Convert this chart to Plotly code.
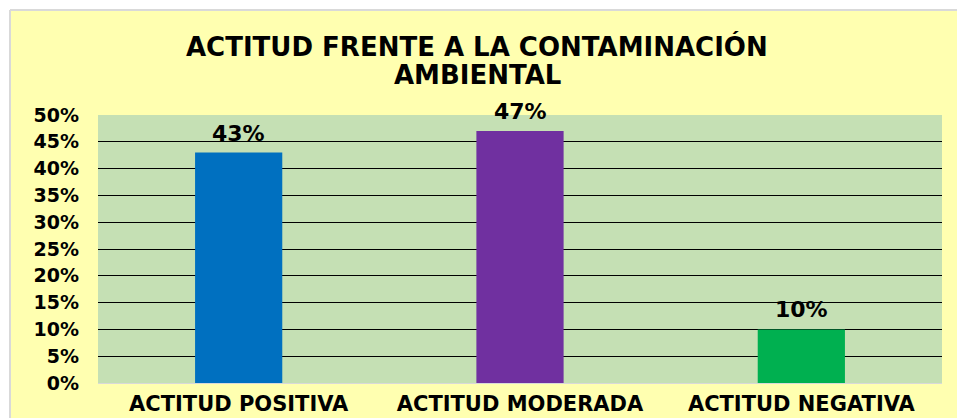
import plotly.graph_objects as go

categories = ["ACTITUD POSITIVA", "ACTITUD MODERADA", "ACTITUD NEGATIVA"]
values = [0.43, 0.47, 0.10]
labels = ["43%", "47%", "10%"]
colors = ["#0070C0", "#7030A0", "#00B050"]
title_lines = ["ACTITUD FRENTE A LA CONTAMINACIÓN", "AMBIENTAL"]

W, H = 957, 418
L, R, T, B = 98, 15, 115, 35
pw, ph = W - L - R, H - T - B

def px_x(px):
    return (px - L) / pw

def px_y(py):
    return (H - B - py) / ph

FONT = "DejaVu Sans"

fig = go.Figure()
fig.add_trace(go.Bar(
    x=categories, y=values, marker=dict(color=colors, line=dict(width=0)),
    width=0.31, hoverinfo="skip",
))

for c, v, t in zip(categories, values, labels):
    fig.add_annotation(x=c, y=v, text=f"<b>{t}</b>", showarrow=False,
                       yanchor="bottom", yshift=5,
                       font=dict(family=FONT, size=22, color="black"))

# title as two lines for tighter line spacing
for line, cy in zip(title_lines, [47, 75]):
    fig.add_annotation(xref="paper", yref="paper", x=px_x(477), y=px_y(cy),
                       xanchor="center", yanchor="middle", showarrow=False,
                       text=f"<b>{line}</b>",
                       font=dict(family=FONT, size=26, color="black"))

shapes = [
    dict(type="rect", xref="paper", yref="paper", x0=px_x(-5), x1=px_x(W + 5),
         y0=px_y(10), y1=px_y(-5), fillcolor="white", line=dict(width=0), layer="below"),
    dict(type="rect", xref="paper", yref="paper", x0=px_x(-5), x1=px_x(10),
         y0=px_y(H + 5), y1=px_y(-5), fillcolor="white", line=dict(width=0), layer="below"),
    dict(type="line", xref="paper", yref="paper", x0=px_x(10), x1=px_x(W + 5),
         y0=px_y(10), y1=px_y(10), line=dict(color="#D9D9D9", width=2)),
    dict(type="line", xref="paper", yref="paper", x0=px_x(10), x1=px_x(10),
         y0=px_y(10), y1=px_y(H + 5), line=dict(color="#D9D9D9", width=2)),
]

fig.update_layout(
    width=W, height=H,
    margin=dict(l=L, r=R, t=T, b=B, pad=0, autoexpand=False),
    paper_bgcolor="#FFFFB0",
    plot_bgcolor="#C5E0B4",
    showlegend=False,
    shapes=shapes,
    xaxis=dict(showgrid=False, showline=False, ticks="", zeroline=False,
               automargin=False,
               tickfont=dict(family=FONT, size=21, color="black", weight="bold"),
               ticklabelstandoff=6),
    yaxis=dict(range=[0, 0.5], dtick=0.05, tickformat=".0%",
               automargin=False,
               showgrid=True, gridcolor="black", gridwidth=1,
               zeroline=True, zerolinecolor="#D9D9D9", zerolinewidth=1,
               showline=False, ticks="",
               tickfont=dict(family=FONT, size=19, color="black", weight="bold"),
               ticklabelstandoff=18),
)

fig.write_html("out.html", config={"displayModeBar": False},
               post_script="document.body.style.margin='0';")
